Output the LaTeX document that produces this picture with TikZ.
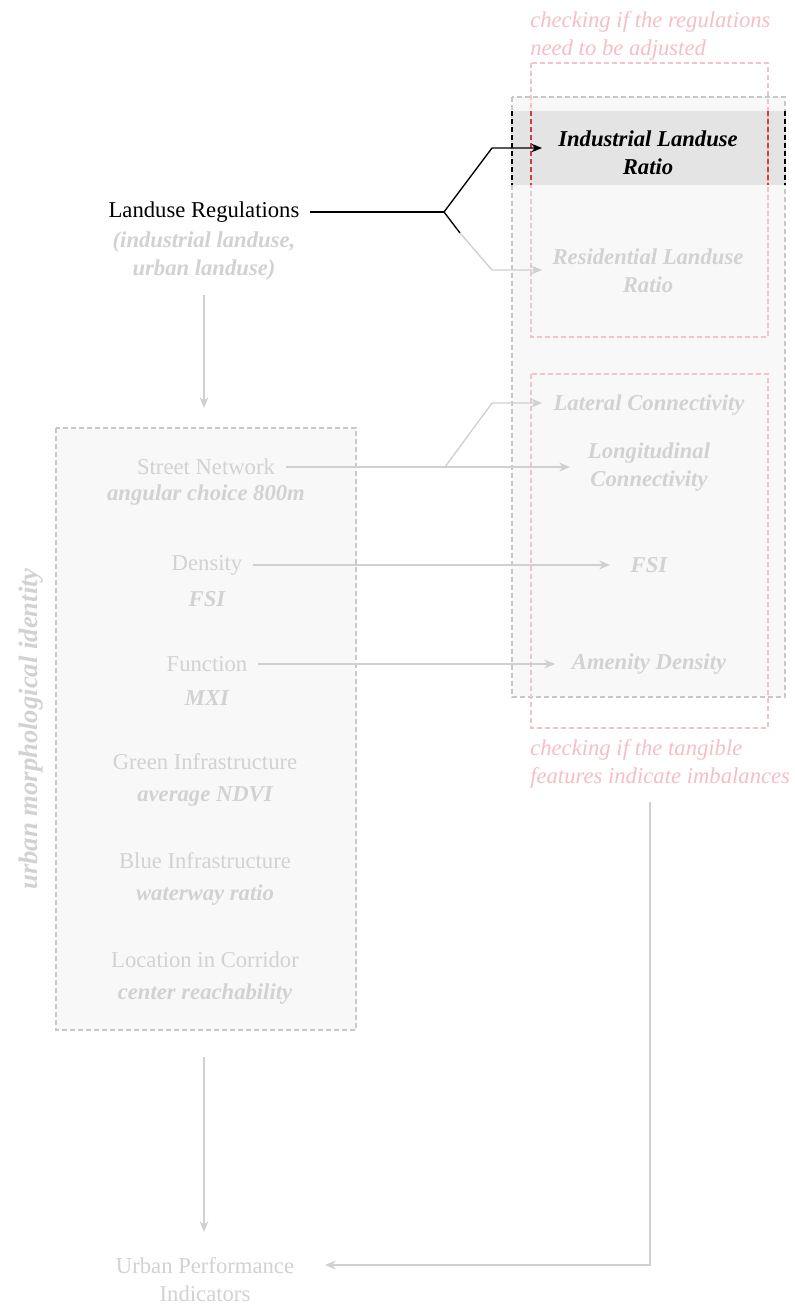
\documentclass[tikz,border=0pt]{standalone}
\usepackage{fontspec}
\setmainfont{Liberation Serif}
\usetikzlibrary{arrows.meta}
\definecolor{txtgray}{HTML}{D2D2D2}
\definecolor{linegray}{HTML}{D0D0D0}
\definecolor{boxfill}{HTML}{F8F8F8}
\definecolor{boxline}{HTML}{C8C8C8}
\definecolor{bandfill}{HTML}{E4E4E4}
\definecolor{pinktxt}{HTML}{F5BFC6}
\definecolor{pinkline}{HTML}{F4C2C9}
\definecolor{redline}{HTML}{D83A3A}
\tikzset{
  base/.style={inner sep=2pt, yshift=-1.5pt, font=\fontsize{17}{21}\selectfont},
  reg/.style={base, text=txtgray},
  sub/.style={base, text=txtgray, font=\fontsize{17}{21}\selectfont\bfseries\itshape},
  rtxt/.style={base, text=txtgray, font=\fontsize{17}{21}\selectfont\bfseries\itshape, align=center},
  pnote/.style={base, text=pinktxt, font=\fontsize{17}{21}\selectfont\itshape, align=left, anchor=west, inner sep=0pt},
  conn/.style={line width=1pt, draw=linegray, -{Stealth[length=8pt,width=6.5pt,inset=2.5pt]}},
  connk/.style={line width=1pt, draw=black, -{Stealth[length=8pt,width=6.5pt,inset=2.5pt]}},
  plain/.style={line width=1pt, draw=linegray},
  gbox/.style={fill=boxfill, draw=boxline, line width=0.8pt, dash pattern=on 3.5pt off 2.5pt},
  pbox/.style={draw=pinkline, line width=0.8pt, dash pattern=on 3.5pt off 2.5pt},
}
\begin{document}
\begin{tikzpicture}[x=0.75pt,y=-0.75pt]
\useasboundingbox[fill=white] (0,0) rectangle (794,1305);
% right boxes
\draw[gbox] (512,97) rectangle (785,697);
\fill[bandfill] (512,111) rectangle (785,185);
\draw[black, line width=0.8pt, dash pattern=on 3.5pt off 2.5pt] (512,111) -- (512,185) (785,111) -- (785,185);
\draw[pbox] (531,63) rectangle (768,337);
\draw[pbox] (531,374) rectangle (768,728);
\draw[redline, line width=0.8pt, dash pattern=on 3.5pt off 2.5pt] (531,111) -- (531,185) (768,111) -- (768,185);
% left box
\draw[gbox] (56,428) rectangle (356,1030);

% notes
\node[pnote] (note1) at (530,34) {checking if the regulations\\need to be adjusted};
\node[pnote] (note2) at (530,762) {checking if the tangible\\features indicate imbalances};

% right texts
\node[rtxt, text=black] (ind) at (648,151) {Industrial Landuse\\Ratio};
\node[rtxt] (res) at (648,269) {Residential Landuse\\Ratio};
\node[rtxt] (lat) at (649,403) {Lateral Connectivity};
\node[rtxt] (lon) at (649,465) {Longitudinal\\Connectivity};
\node[rtxt] (fsir) at (649,563) {FSI};
\node[rtxt] (amen) at (649,662) {Amenity Density};

% left texts
\node[base] (lr) at (204,210) {Landuse Regulations};
\node[rtxt] (lrsub) at (204,254) {(industrial landuse,\\urban landuse)};
\node[reg] (sn) at (206,465) {Street Network};
\node[sub] (snm) at (206,493) {angular choice 800m};
\node[reg] (den) at (207,563) {Density};
\node[sub] (denm) at (207,597) {FSI};
\node[reg] (fun) at (207,662) {Function};
\node[sub] (funm) at (207,696) {MXI};
\node[reg] (gi) at (205,760) {Green Infrastructure};
\node[sub] (gim) at (205,794) {average NDVI};
\node[reg] (bi) at (205,859) {Blue Infrastructure};
\node[sub] (bim) at (205,893) {waterway ratio};
\node[reg] (loc) at (205,958) {Location in Corridor};
\node[sub] (locm) at (205,992) {center reachability};
\node[sub, rotate=90, yshift=1.5pt, font=\fontsize{20}{24}\selectfont\bfseries\itshape] (umi) at (33,727) {urban morphological identity};
\node[reg, align=center] (upi) at (205,1278) {Urban Performance\\Indicators};

% coordinates
\coordinate (b1) at (444,212);
\coordinate (b2) at (492,148);
\coordinate (tind) at (542,148);
\coordinate (bm) at (460,233);
\coordinate (b3) at (492,270);
\coordinate (tres) at (542,270);
\coordinate (s1) at (445,467);
\coordinate (s2) at (492,403);
\coordinate (tlat) at (542,403);
\coordinate (tfsi) at (610,565);
\coordinate (tam) at (555,664);
\coordinate (d1) at (204,295);
\coordinate (d2) at (204,408);
\coordinate (e1) at (204,1057);
\coordinate (e2) at (204,1232);
\coordinate (f1) at (650,802);
\coordinate (f2) at (650,1265);
\coordinate (f3) at (325,1265);

% connectors
\draw[line width=1pt, black] ([xshift=6pt]lr.east) -- (b1);
\draw[connk] (b1) -- (b2) -- (tind);
\draw[line width=1pt, black] (b1) -- (bm);
\draw[conn] (bm) -- (b3) -- (tres);
\draw[plain] ([xshift=6pt]sn.east) -- (s1);
\draw[conn] (s1) -- (s1 -| 570,0);
\draw[conn] (s1) -- (s2) -- (tlat);
\draw[conn] ([xshift=6pt]den.east) -- (den.east -| tfsi);
\draw[conn] ([xshift=6pt]fun.east) -- (fun.east -| tam);
\draw[conn] (d1) -- (d2);
\draw[conn] (e1) -- (e2);
\draw[conn] (f1) -- (f2) -- (f3);
\end{tikzpicture}
\end{document}
